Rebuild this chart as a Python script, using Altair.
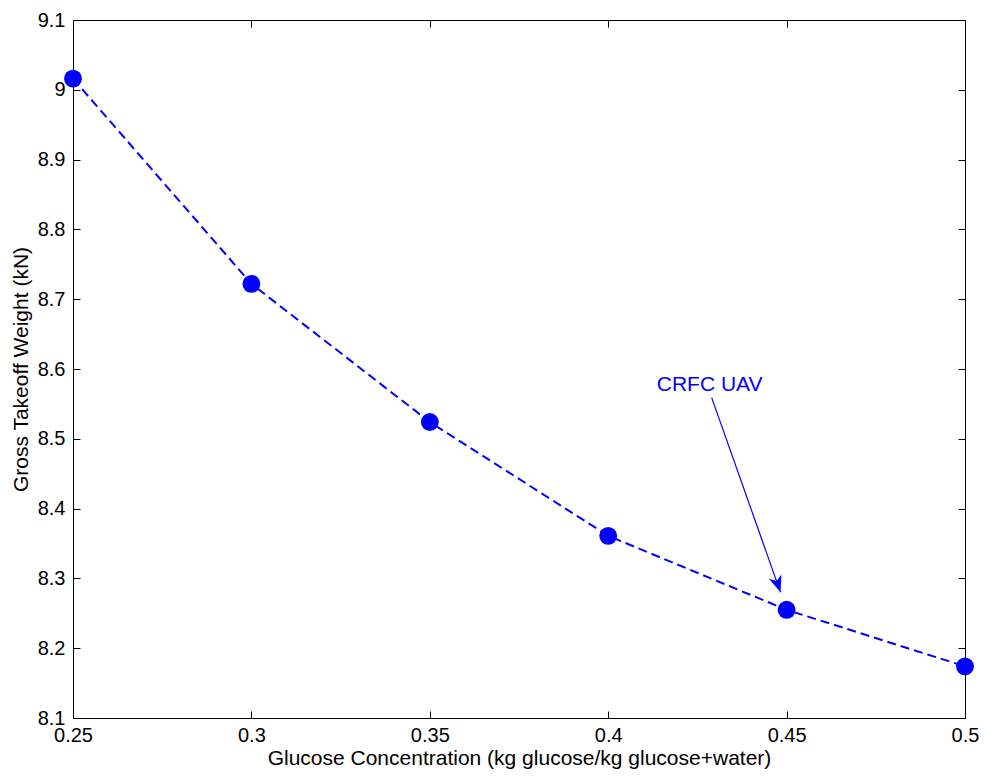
import altair as alt
import pandas as pd

# Data
glucose = [0.25, 0.30, 0.35, 0.40, 0.45, 0.50]
weight = [9.016, 8.722, 8.524, 8.361, 8.255, 8.174]

x_ticks = [0.25, 0.30, 0.35, 0.40, 0.45, 0.50]
y_ticks = [8.1, 8.2, 8.3, 8.4, 8.5, 8.6, 8.7, 8.8, 8.9, 9.0, 9.1]

label_text = ["CRFC UAV"]
label_x = [0.4136]
label_y = [8.577]

arrow_x = [0.429]
arrow_y = [8.559]
arrow_x2 = [0.4483]
arrow_y2 = [8.280]

df = pd.DataFrame({"x": glucose, "y": weight})
lab = pd.DataFrame({"x": label_x, "y": label_y, "t": label_text})
arr = pd.DataFrame({"x": arrow_x, "y": arrow_y, "x2": arrow_x2, "y2": arrow_y2})

FONT = "Liberation Sans"
BLUE = "#0000ff"
xs = alt.Scale(domain=[0.25, 0.5], nice=False, zero=False)
ys = alt.Scale(domain=[8.1, 9.1], nice=False, zero=False)

TS = 7

main_line = alt.Chart(df).mark_line(
    color=BLUE, strokeWidth=2, strokeDash=[9, 5]
).encode(
    x=alt.X("x:Q", scale=xs, axis=alt.Axis(
        orient="bottom", values=x_ticks, ticks=False, tickSize=0, domain=False,
        grid=False, labelPadding=7, labelFontSize=20, labelFont=FONT,
        labelColor="black", labelFlush=False, labelOverlap=False, format="~g",
        title="Glucose Concentration (kg glucose/kg glucose+water)",
        titleFont=FONT, titleFontSize=21, titleFontWeight="normal",
        titleColor="black", titleBaseline="alphabetic", titleY=46)),
    y=alt.Y("y:Q", scale=ys, axis=alt.Axis(
        orient="left", values=y_ticks, ticks=False, tickSize=0, domain=False,
        grid=False, labelPadding=8, labelFontSize=20, labelFont=FONT,
        labelColor="black", labelFlush=False, labelOverlap=False, format="~g",
        title="Gross Takeoff Weight (kN)",
        titleFont=FONT, titleFontSize=21, titleFontWeight="normal",
        titleColor="black", titlePadding=6)),
)

points = alt.Chart(df).mark_point(
    filled=True, color=BLUE, size=320, opacity=1, shape="circle"
).encode(
    x=alt.X("x:Q", scale=xs, axis=alt.Axis(
        orient="bottom", values=x_ticks, ticks=True, tickSize=TS, offset=-TS,
        tickColor="black", domain=False, labels=False, grid=False, title=None)),
    y=alt.Y("y:Q", scale=ys, axis=alt.Axis(
        orient="left", values=y_ticks, ticks=True, tickSize=TS, offset=-TS,
        tickColor="black", domain=False, labels=False, grid=False, title=None)),
)

arrow_line = alt.Chart(arr).mark_rule(color=BLUE, strokeWidth=1.2).encode(
    x=alt.X("x:Q", scale=xs, axis=alt.Axis(
        orient="top", values=x_ticks, ticks=True, tickSize=TS, offset=-TS,
        tickColor="black", domain=False, labels=False, grid=False, title=None)),
    y=alt.Y("y:Q", scale=ys, axis=alt.Axis(
        orient="right", values=y_ticks, ticks=True, tickSize=TS, offset=-TS,
        tickColor="black", domain=False, labels=False, grid=False, title=None)),
    x2="x2:Q",
    y2="y2:Q",
)

arrow_head = alt.Chart(arr).mark_point(
    filled=True, color=BLUE, opacity=1, size=1100, angle=341,
    shape="M0,0 L-0.4,-1 L0,-0.72 L0.4,-1 Z"
).encode(
    x=alt.X("x2:Q", scale=xs, axis=None),
    y=alt.Y("y2:Q", scale=ys, axis=None),
)

label = alt.Chart(lab).mark_text(
    color=BLUE, font=FONT, fontSize=21, align="left", baseline="middle"
).encode(
    x=alt.X("x:Q", scale=xs, axis=None),
    y=alt.Y("y:Q", scale=ys, axis=None),
    text="t:N",
)

chart = alt.layer(main_line, points, arrow_line, arrow_head, label).resolve_axis(
    x="independent", y="independent"
).properties(
    width=892, height=698,
    autosize=alt.AutoSizeParams(type="none"),
    padding={"left": 65, "top": 12, "right": 14, "bottom": 52},
    background="white",
).configure_view(stroke="black", strokeWidth=1)

chart.save("out.html", embed_options={"renderer": "svg", "actions": False})
